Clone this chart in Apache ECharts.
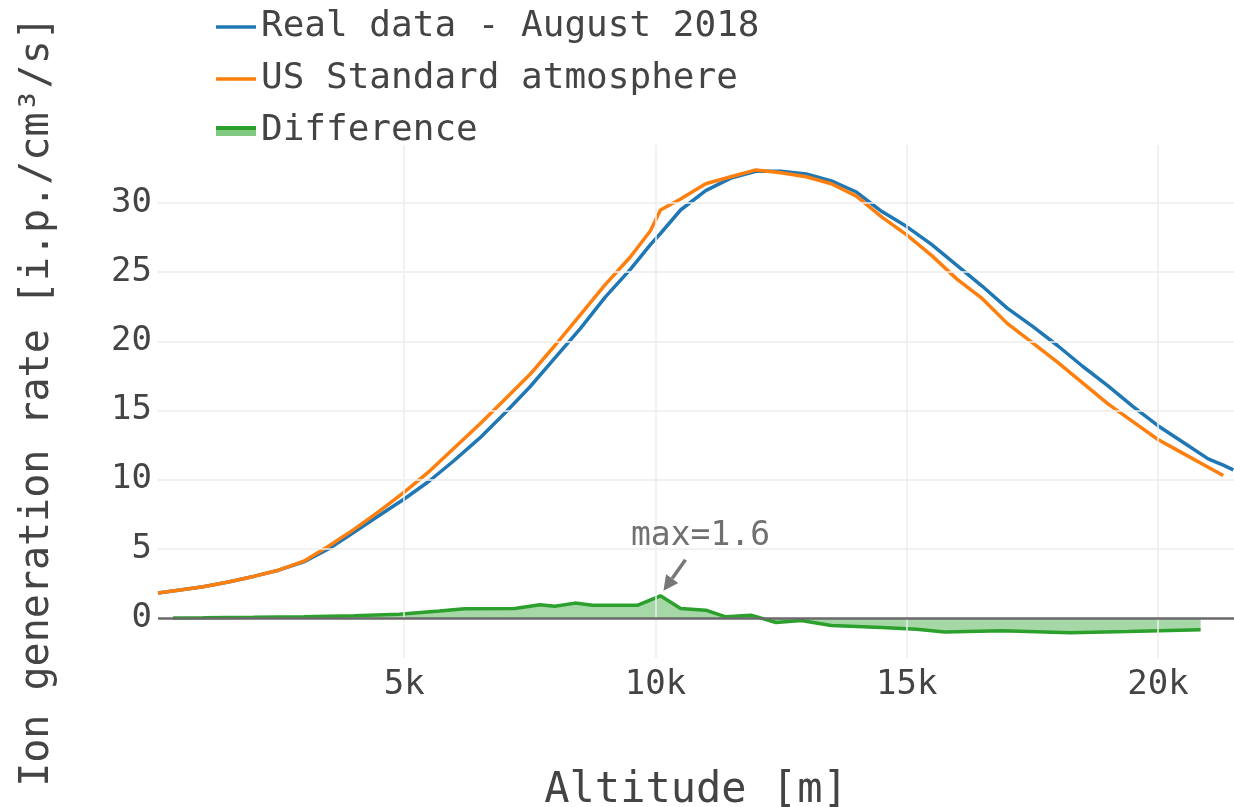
<!DOCTYPE html>
<html>
<head>
<meta charset="utf-8">
<script src="https://cdn.jsdelivr.net/npm/echarts@6/dist/echarts.min.js"></script>
<style>
  html, body { margin: 0; padding: 0; background: #ffffff; overflow: hidden; }
  #chart { width: 1234px; height: 807px; }
</style>
</head>
<body>
<div id="chart"></div>
<script>
// Altitude grid (m) shared by the two ionisation profiles
const altitude = [100, 500, 1000, 1500, 2000, 2500, 3000, 3500, 4000, 4500,
  5000, 5500, 6000, 6500, 7000, 7500, 8000, 8500, 9000, 9500,
  9900, 10100, 10500, 11000, 11500, 12000, 12500, 13000, 13500, 14000,
  14500, 15000, 15500, 16000, 16500, 17000, 17500, 18000, 18500, 19000,
  19500, 20000, 20500, 21000, 21300, 21500];

// Measured profile, August 2018 (i.p./cm^3/s)
const realData = [1.8, 2.0, 2.25, 2.6, 3.0, 3.45, 4.05, 5.0, 6.2, 7.4,
  8.6, 9.9, 11.4, 13.0, 14.8, 16.7, 18.8, 20.9, 23.2, 25.2,
  27.0, 27.8, 29.5, 30.9, 31.8, 32.3, 32.3, 32.1, 31.6, 30.8,
  29.4, 28.3, 27.0, 25.5, 24.0, 22.4, 21.1, 19.7, 18.2, 16.8,
  15.3, 13.9, 12.7, 11.5, 11.05, 10.7];

// US Standard atmosphere profile (i.p./cm^3/s)
const usStandard = [1.8, 2.0, 2.25, 2.6, 3.0, 3.45, 4.1, 5.2, 6.4, 7.7,
  9.1, 10.6, 12.3, 14.0, 15.8, 17.6, 19.7, 21.9, 24.1, 26.1,
  28.0, 29.5, 30.3, 31.4, 31.9, 32.4, 32.2, 31.9, 31.4, 30.5,
  29.0, 27.7, 26.2, 24.5, 23.1, 21.3, 19.9, 18.5, 17.0, 15.5,
  14.2, 12.9, 11.9, 10.9, 10.3, null];

// Difference between the two profiles
const diffAltitude = [400, 1000, 2000, 3000, 4000, 4900, 5700, 6200, 7200, 7700,
  8000, 8400, 8750, 9650, 10100, 10500, 11000, 11400, 11900, 12400,
  12900, 13500, 14500, 15200, 15750, 16900, 18250, 19400, 20850];
const difference = [0.0, 0.01, 0.04, 0.09, 0.16, 0.26, 0.50, 0.66, 0.68, 0.95,
  0.84, 1.07, 0.92, 0.92, 1.6, 0.68, 0.56, 0.08, 0.20, -0.33,
  -0.19, -0.55, -0.70, -0.82, -1.02, -0.93, -1.08, -0.98, -0.85];

const xTicks = [5000, 10000, 15000, 20000];
const yTicks = [0, 5, 10, 15, 20, 25, 30];

const FONT = '"DejaVu Sans Mono", "Liberation Mono", monospace';
const TEXT = '#444444';
const LINE_ICON = 'path://M0,0h40v3.5h-40z';

const pairs = (xs, ys) => xs.map((x, i) => [x, ys[i]]);

const chart = echarts.init(document.getElementById('chart'), null, {
  renderer: 'canvas', width: 1234, height: 807
});

const gridLines = [
  ...xTicks.map(v => ({ xAxis: v })),
  ...yTicks.filter(v => v !== 0).map(v => ({ yAxis: v })),
  { yAxis: 0, lineStyle: { color: '#6a6a6a', width: 2.5, type: 'solid' } }
];

chart.setOption({
  animation: false,
  backgroundColor: '#ffffff',
  textStyle: { fontFamily: FONT },
  grid: {
    left: 158, right: 0, top: 145, height: 513,
    containLabel: false, outerBoundsMode: 'none'
  },
  legend: {
    orient: 'vertical',
    left: 211,
    top: 4,
    itemWidth: 40,
    itemHeight: 10,
    itemGap: 16,
    textStyle: { fontFamily: FONT, fontSize: 36, color: TEXT, lineHeight: 36 },
    data: [
      { name: 'Real data - August 2018', icon: LINE_ICON },
      { name: 'US Standard atmosphere', icon: LINE_ICON },
      {
        name: 'Difference',
        icon: 'rect',
        itemStyle: {
          color: {
            type: 'linear', x: 0, y: 0, x2: 0, y2: 1,
            colorStops: [
              { offset: 0, color: '#2ca02c' },
              { offset: 0.35, color: '#2ca02c' },
              { offset: 0.35, color: '#80c980' },
              { offset: 1, color: '#80c980' }
            ]
          }
        }
      }
    ]
  },
  xAxis: {
    type: 'value',
    min: 100,
    max: 21514,
    name: 'Altitude [m]',
    nameLocation: 'middle',
    nameGap: 112,
    nameTextStyle: { fontFamily: FONT, fontSize: 42, color: TEXT },
    axisLine: { show: false },
    axisTick: { show: false },
    splitLine: { show: false },
    axisLabel: {
      customValues: xTicks,
      formatter: v => (v / 1000) + 'k',
      fontFamily: FONT, fontSize: 34, color: TEXT, margin: 10
    }
  },
  yAxis: {
    type: 'value',
    min: -2.9,
    max: 34.2,
    name: 'Ion generation rate [i.p./cm³/s]',
    nameLocation: 'middle',
    nameGap: 100,
    nameTextStyle: { fontFamily: FONT, fontSize: 40, color: TEXT },
    axisLine: { show: false },
    axisTick: { show: false },
    splitLine: { show: false },
    axisLabel: {
      customValues: yTicks,
      fontFamily: FONT, fontSize: 34, color: TEXT, margin: 6
    }
  },
  series: [
    {
      name: '_grid',
      type: 'line',
      data: [],
      z: 1,
      silent: true,
      markLine: {
        silent: true,
        symbol: ['none', 'none'],
        label: { show: false },
        lineStyle: { color: '#ececec', width: 1.5, type: 'solid' },
        data: gridLines
      }
    },
    {
      name: 'Real data - August 2018',
      type: 'line',
      data: pairs(altitude, realData),
      showSymbol: false,
      symbol: 'none',
      z: 2,
      itemStyle: { color: '#1f77b4' },
      lineStyle: { color: '#1f77b4', width: 3.5 }
    },
    {
      name: 'US Standard atmosphere',
      type: 'line',
      data: pairs(altitude, usStandard),
      showSymbol: false,
      symbol: 'none',
      z: 2,
      itemStyle: { color: '#ff7f0e' },
      lineStyle: { color: '#ff7f0e', width: 3.5 }
    },
    {
      name: 'Difference',
      type: 'line',
      data: pairs(diffAltitude, difference),
      showSymbol: false,
      symbol: 'none',
      z: 2,
      itemStyle: { color: '#2ca02c' },
      lineStyle: { color: '#2ca02c', width: 3.5 },
      areaStyle: { color: 'rgba(44,160,44,0.6)' }
    }
  ]
});

// Annotation arrow pointing at the largest difference
const peakIdx = difference.indexOf(Math.max(...difference));
const peak = [diffAltitude[peakIdx], difference[peakIdx]];
const p = chart.convertToPixel({ gridIndex: 0 }, peak);
const tip = [p[0] + 3, p[1] - 5];
const tail = [p[0] + 25, p[1] - 36];
const dx = tip[0] - tail[0], dy = tip[1] - tail[1];
const len = Math.hypot(dx, dy);
const ux = dx / len, uy = dy / len;
const headLen = 15, headHalf = 7.5;
const base = [tip[0] - ux * headLen, tip[1] - uy * headLen];
chart.setOption({
  graphic: [
    {
      type: 'line', z: 100,
      shape: { x1: tail[0], y1: tail[1], x2: base[0], y2: base[1] },
      style: { stroke: '#777777', lineWidth: 3.5 }
    },
    {
      type: 'polygon', z: 100,
      shape: { points: [tip,
        [base[0] - uy * headHalf, base[1] + ux * headHalf],
        [base[0] + uy * headHalf, base[1] - ux * headHalf]] },
      style: { fill: '#777777' }
    },
    {
      type: 'text', z: 100,
      style: {
        text: 'max=' + peak[1].toFixed(1),
        x: p[0] + 40, y: p[1] - 59,
        align: 'center', verticalAlign: 'middle',
        font: '33px ' + FONT,
        fill: '#707070'
      }
    }
  ]
});
</script>
</body>
</html>
